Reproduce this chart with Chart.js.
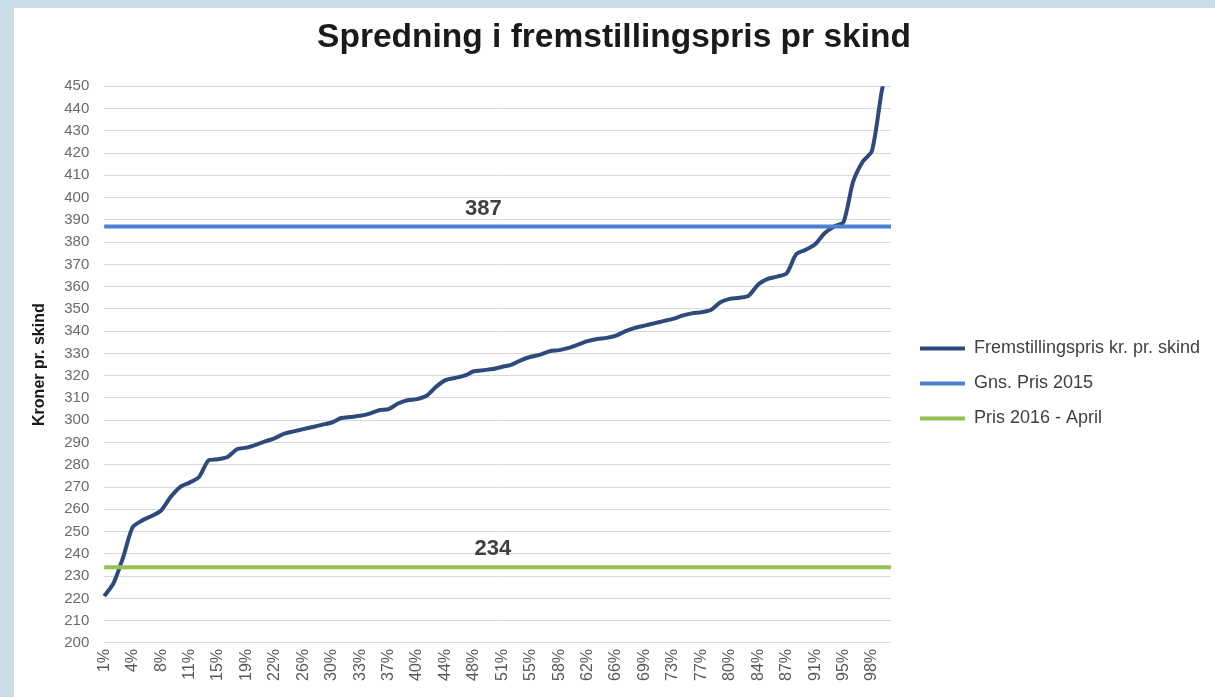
<!DOCTYPE html>
<html><head><meta charset="utf-8">
<script src="https://cdn.jsdelivr.net/npm/chart.js@4.4.1/dist/chart.umd.min.js"></script>
<style>
html,body{margin:0;padding:0;background:#c9dce6;width:1215px;height:697px;overflow:hidden;}
#wrap{position:absolute;left:14px;top:8px;width:1201px;height:689px;background:#fff;}
</style></head><body>
<div id="wrap"><canvas id="c" width="1201" height="689"></canvas></div>
<script>
const categories = ['1%','2%','3%','4%','5%','6%','8%','9%','10%','11%','12%','13%','15%','16%','17%','19%','20%','21%','22%','23%','25%','26%','27%','29%','30%','31%','32%','33%','35%','36%','37%','38%','39%','40%','41%','43%','44%','45%','47%','48%','49%','50%','51%','52%','54%','55%','56%','57%','58%','60%','61%','62%','63%','65%','66%','67%','68%','69%','71%','72%','73%','75%','76%','77%','78%','79%','80%','81%','83%','84%','85%','86%','87%','88%','90%','91%','92%','93%','95%','96%','97%','98%','99%','100%'];
const fremstillingspris = [221,227,238.5,252,255,257,259.5,265.5,270,272,
  274.5,282,282.5,283.5,287,287.7,289,290.5,292,294,
  295,296,297,298,299,301,301.5,302,303,304.5,
  305,307.5,309,309.5,311,315,318,319,320,322,
  322.5,323,324,325,327,328.5,329.5,331,331.5,332.5,
  334,335.5,336.5,337,338,340,341.5,342.5,343.5,344.5,
  345.5,347,348,348.5,349.5,353,354.5,355,356,361,
  363.5,364.5,366,374.5,376.5,379,384,387,389,407,
  416,421,447,468];
const gnsPris2015 = 387;
const pris2016April = 234;
const seriesNames = ['Fremstillingspris kr. pr. skind','Gns. Pris 2015','Pris 2016 - April'];
const yMin = 200, yMax = 450, yStep = 10;
const labelIndex2015 = 40, labelIndex2016 = 41;

const FONT = '"Liberation Sans", Arial, sans-serif';
const first = categories[0], last = categories[categories.length-1];

const lineLabels = {
  id: 'lineLabels',
  afterDatasetsDraw(chart) {
    const {ctx, scales:{x, y}} = chart;
    ctx.save();
    ctx.font = 'bold 22px ' + FONT;
    ctx.fillStyle = '#404040';
    ctx.textAlign = 'center';
    ctx.textBaseline = 'bottom';
    [[gnsPris2015, labelIndex2015],[pris2016April, labelIndex2016]].forEach(([v, idx]) => {
      ctx.fillText(String(v), x.getPixelForValue(idx), y.getPixelForValue(v) - 7);
    });
    ctx.restore();
  }
};

// extra gap between plot area and legend (Excel leaves a wider margin)
const legendGap = {
  id: 'legendGap',
  afterLayout(chart) {
    const lg = chart.legend;
    if (lg) { lg.left += 12; lg.right += 12; }
  }
};

new Chart(document.getElementById('c'), {
  type: 'line',
  data: {
    labels: categories,
    datasets: [
      {label: seriesNames[0], data: fremstillingspris, borderColor: '#2d4a7c', backgroundColor: '#2d4a7c',
       borderWidth: 4, pointRadius: 0, pointStyle: 'line', tension: 0.25, order: 2},
      {label: seriesNames[1], data: [{x: first, y: gnsPris2015}, {x: last, y: gnsPris2015}], borderColor: '#4a7fd1', backgroundColor: '#4a7fd1',
       borderWidth: 4, pointRadius: 0, pointStyle: 'line', order: 1},
      {label: seriesNames[2], data: [{x: first, y: pris2016April}, {x: last, y: pris2016April}], borderColor: '#96c050', backgroundColor: '#96c050',
       borderWidth: 4, pointRadius: 0, pointStyle: 'line', order: 0}
    ]
  },
  options: {
    responsive: false,
    animation: false,
    events: [],
    layout: {padding: {left: 16, right: 17, top: 0, bottom: 10}},
    plugins: {
      title: {display: true, text: 'Spredning i fremstillingspris pr skind', color: '#1a1a1a',
        font: {family: FONT, size: 33.5, weight: 'bold'}, padding: {top: 10, bottom: 28}},
      legend: {position: 'right', align: 'center', maxWidth: 360,
        title: {display: true, text: ' ', font: {size: 10}, padding: {top: 0, bottom: 60}},
        labels: {usePointStyle: true, pointStyleWidth: 45, padding: 17, color: '#404040',
          font: {family: FONT, size: 18},
          sort: (a, b) => a.datasetIndex - b.datasetIndex}},
      tooltip: {enabled: false}
    },
    scales: {
      x: {
        grid: {display: false, drawTicks: false},
        border: {display: true, color: '#d9d9d9'},
        ticks: {autoSkip: false, maxRotation: 90, minRotation: 90, color: '#595959', padding: 6,
          font: {family: FONT, size: 16},
          callback: function(val, idx) { return idx % 3 === 0 ? this.getLabelForValue(val) : null; }}
      },
      y: {
        min: yMin, max: yMax,
        grid: {color: '#d9d9d9', drawTicks: false},
        border: {display: false},
        ticks: {stepSize: yStep, color: '#6b6b6b', padding: 15, font: {family: FONT, size: 15}},
        title: {display: true, text: 'Kroner pr. skind', color: '#1a1a1a',
          font: {family: FONT, size: 16, weight: 'bold'}, padding: {top: 0, bottom: 0}}
      }
    }
  },
  plugins: [lineLabels, legendGap]
});
</script>
</body></html>
